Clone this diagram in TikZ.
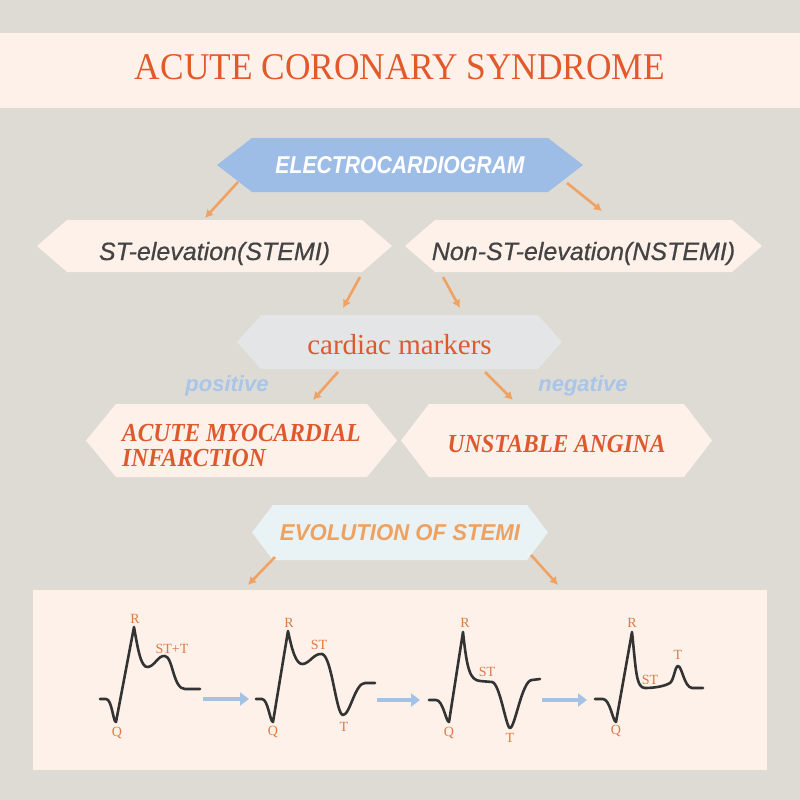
\documentclass[tikz,border=0pt]{standalone}
\usepackage{fontspec}
\usepackage{graphicx}
\setmainfont{Liberation Serif}
\newfontfamily\sansf{Liberation Sans}
\newfontfamily\handf{Liberation Sans}[ItalicFeatures={FakeBold=0.6}]
\usetikzlibrary{arrows.meta,calc}
\definecolor{bg}{HTML}{DEDBD5}
\definecolor{cream}{HTML}{FDF1EA}
\definecolor{titlec}{HTML}{E2592A}
\definecolor{bluebox}{HTML}{9DBDE6}
\definecolor{arrc}{HTML}{F0A262}
\definecolor{darkt}{HTML}{434343}
\definecolor{graybox}{HTML}{E4E5E7}
\definecolor{lblue}{HTML}{A9C5E8}
\definecolor{cyanbox}{HTML}{E9F3F6}
\definecolor{evoc}{HTML}{EFA260}
\definecolor{ecgc}{HTML}{333333}
\definecolor{labc}{HTML}{E07A45}
\definecolor{redt}{HTML}{DD5A2E}
\definecolor{barr}{HTML}{A4C2E6}
\newcommand\hexshape[8]{%
  \fill[#7] (#2,{(#3+#5)/2}) -- ({#2+#6},#3) -- ({#4-#6},#3) -- (#4,{(#3+#5)/2}) -- ({#4-#6},#5) -- ({#2+#6},#5) -- cycle;
  \node[hexn, tx#1/.try, minimum width={(#4-#2)*1pt}, minimum height={(#5-#3)*1pt}] (#1) at ({(#2+#4)/2},{(#3+#5)/2}) {#8};
}
\begin{document}
\begin{tikzpicture}[x=1pt,y=-1pt,
  hexn/.style={inner sep=0pt, outer sep=0pt, align=center},
  txst/.style={text height=28pt, text depth=0pt},
  txnst/.style={text height=28pt, text depth=0pt},
  txcm/.style={text height=25pt, text depth=0pt},
  txami/.style={text height=30pt, text depth=0pt},
  txua/.style={text height=23pt, text depth=0pt},
  arr/.style={draw=arrc, line width=2.6pt, -{Latex[length=8pt,width=9pt]}},
  barrow/.style={draw=barr, line width=4.5pt, -{Triangle[length=9pt,width=13pt]}},
  wave/.style={draw=ecgc, line width=2.6pt, line join=round, line cap=round},
  lab/.style={text=labc, font=\fontsize{14}{14}\selectfont, inner sep=0pt},
  sidel/.style={font=\sansf\bfseries\itshape\fontsize{22}{24}\selectfont, text=lblue, inner sep=0pt}]
\useasboundingbox (0,0) rectangle (800,800);
\fill[bg] (0,0) rectangle (800,800);
% title band
\fill[cream] (0,33) rectangle (800,108);
\node[inner sep=0pt, text=titlec] (title) at (400,67.5) {\resizebox{530pt}{25pt}{ACUTE CORONARY SYNDROME}};
% boxes
\hexshape{ecg}{217}{138}{583}{192}{35}{bluebox}{\textcolor{white}{\sansf\bfseries\itshape\resizebox{249pt}{17pt}{ELECTROCARDIOGRAM}}}
\hexshape{st}{37}{220}{392}{272}{30}{cream}{\textcolor{darkt}{\handf\itshape\fontsize{25}{28}\selectfont ST-elevation(STEMI)}}
\hexshape{nst}{405}{220}{762}{272}{30}{cream}{\textcolor{darkt}{\handf\itshape\fontsize{25}{28}\selectfont Non-ST-elevation(NSTEMI)}}
\hexshape{cm}{237}{315}{562}{369}{24}{graybox}{\textcolor{redt}{\fontsize{29}{32}\selectfont cardiac markers}}
\hexshape{ami}{86}{404}{397}{477}{30}{cream}{\textcolor{redt}{\bfseries\itshape\fontsize{26}{25}\selectfont\scalebox{0.9}[1]{\begin{tabular}{@{}l@{}}ACUTE MYOCARDIAL\\INFARCTION\end{tabular}}}}
\hexshape{ua}{401}{404}{712}{477}{28}{cream}{\textcolor{redt}{\bfseries\itshape\fontsize{26}{28}\selectfont\scalebox{0.9}[1]{UNSTABLE ANGINA}}}
\hexshape{evo}{252}{505}{548}{560}{21}{cyanbox}{\textcolor{evoc}{\sansf\bfseries\itshape\resizebox{240pt}{16pt}{EVOLUTION OF STEMI}}}
\node[sidel] (pos) at (227,386) {positive};
\node[sidel] (neg) at (583,386) {negative};
% panel
\node[fill=cream, minimum width=734pt, minimum height=180pt, inner sep=0pt, outer sep=0pt] (panel) at (400,680) {};
% connectors
\draw[arr] ($(ecg.south west)+(21,-10)$) -- ($(st.north)+(-9.5,-2)$);
\draw[arr] ($(ecg.south east)+(-16,-9)$) -- ($(nst.north)+(18.5,-9)$);
\draw[arr] ($(st.south east)+(-32,5)$) -- ($(cm.north)+(-56.5,-7)$);
\draw[arr] ($(nst.south west)+(38,5)$) -- ($(cm.north)+(60.5,-7)$);
\draw[arr] ($(cm.south)+(-61.5,3)$) -- ($(ami.north east)+(-84,-4)$);
\draw[arr] ($(cm.south)+(85.5,3)$) -- ($(ua.north west)+(112,-4)$);
\draw[arr] ($(evo.south west)+(23,-3)$) -- ($(panel.north west)+(215,-5)$);
\draw[arr] ($(evo.south east)+(-17,-5)$) -- ($(panel.north west)+(525,-5)$);
% ECG waves
\draw[wave] (100,699) -- (106,699) .. controls (112,699) and (113,722) .. (116,722) -- (134,627) .. controls (138,650) and (141,668) .. (148,667) .. controls (155,666) and (158,655) .. (165,656) .. controls (173,657) and (173,689) .. (185,689) -- (200,689);
\draw[wave] (256,699) -- (262,699) .. controls (268,699) and (270,722) .. (273,722) -- (288,631) .. controls (292,650) and (296,665) .. (303,664) .. controls (310,663) and (314,653) .. (322,654) .. controls (332,656) and (336,715) .. (343,715) .. controls (350,715) and (355,683) .. (365,683) -- (375,683);
\draw[wave] (429,700) -- (436,700) .. controls (443,700) and (446,722) .. (449,722) -- (463,632) .. controls (467,670) and (470,680) .. (480,681) -- (492,682) .. controls (500,683) and (506,728) .. (510,728) .. controls (515,728) and (522,680) .. (532,680) -- (540,679);
\draw[wave] (595,699) -- (603,699) .. controls (610,699) and (613,722) .. (616,722) -- (632,632) .. controls (636,670) and (636,688) .. (645,688) .. controls (655,688) and (665,686) .. (670,683) .. controls (674,680) and (675,666) .. (678,666) .. controls (682,666) and (684,687) .. (692,688) -- (703,688);
% wave labels
\node[lab] (r1) at (135,619) {R};
\node[lab] (q1) at (117,733) {Q};
\node[lab] (st1) at (172,649) {ST+T};
\node[lab] (r2) at (289,623) {R};
\node[lab] (st2) at (319,645) {ST};
\node[lab] (q2) at (273,732) {Q};
\node[lab] (t2) at (344,727) {T};
\node[lab] (r3) at (465,623) {R};
\node[lab] (st3) at (487,672) {ST};
\node[lab] (q3) at (449,733) {Q};
\node[lab] (t3) at (510,738) {T};
\node[lab] (r4) at (632,623) {R};
\node[lab] (st4) at (650,680) {ST};
\node[lab] (t4) at (678,655) {T};
\node[lab] (q4) at (616,731) {Q};
% blue arrows
\draw[barrow] (203,699) -- (249,699);
\draw[barrow] (377,700) -- (420,700);
\draw[barrow] (542,700) -- (587,700);
\end{tikzpicture}
\end{document}
